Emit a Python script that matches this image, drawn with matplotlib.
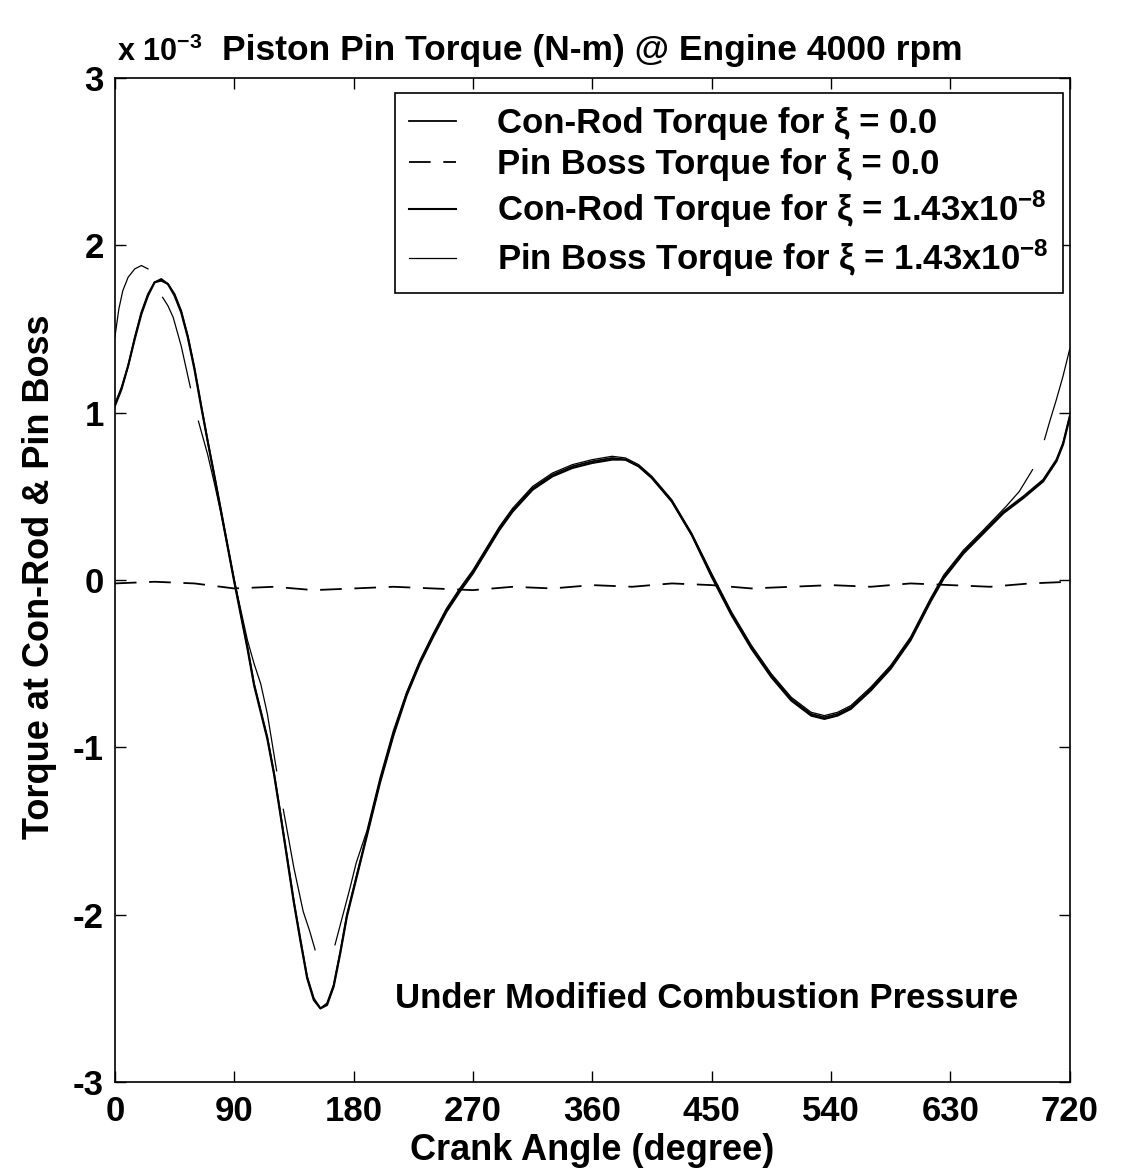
import numpy as np
import matplotlib.pyplot as plt

# === Data (torque in units of 1e-3 N-m) ===
conrod_deg = [0, 5, 10, 15, 20, 25, 30, 35, 40, 45, 50, 55, 60, 65, 70, 75, 80, 85, 90,
              95, 100, 105, 110, 115, 120, 125, 130, 135, 140, 145, 150, 155, 160, 165,
              170, 175, 180, 190, 200, 210, 220, 230, 240, 250, 260, 270, 280, 290, 300,
              315, 330, 345, 360, 375, 385, 395, 405, 420, 435, 450, 465, 480, 495, 510,
              525, 535, 545, 555, 570, 585, 600, 615, 625, 640, 655, 670, 685, 700, 710,
              715, 720]
conrod_xi0 = [1.05, 1.15, 1.28, 1.45, 1.60, 1.71, 1.78, 1.80, 1.77, 1.71, 1.61, 1.46, 1.27,
              1.05, 0.83, 0.63, 0.42, 0.21, 0.00, -0.20, -0.40, -0.62, -0.78, -0.94, -1.15,
              -1.40, -1.66, -1.92, -2.15, -2.37, -2.50, -2.56, -2.53, -2.42, -2.22, -2.00,
              -1.84, -1.52, -1.20, -0.92, -0.68, -0.49, -0.33, -0.18, -0.06, 0.05, 0.18,
              0.31, 0.42, 0.55, 0.63, 0.68, 0.71, 0.73, 0.72, 0.68, 0.61, 0.47, 0.27, 0.03,
              -0.20, -0.40, -0.57, -0.71, -0.80, -0.82, -0.80, -0.76, -0.65, -0.52, -0.35,
              -0.12, 0.02, 0.17, 0.29, 0.41, 0.50, 0.60, 0.72, 0.82, 0.98]
conrod_xi143 = [1.04, 1.14, 1.28, 1.44, 1.59, 1.70, 1.78, 1.79, 1.77, 1.70, 1.60, 1.45, 1.26,
                1.04, 0.83, 0.62, 0.41, 0.20, -0.01, -0.21, -0.41, -0.63, -0.79, -0.95, -1.16,
                -1.41, -1.67, -1.93, -2.16, -2.38, -2.51, -2.56, -2.54, -2.43, -2.23, -2.01,
                -1.85, -1.53, -1.21, -0.93, -0.69, -0.50, -0.34, -0.19, -0.07, 0.04, 0.17,
                0.30, 0.41, 0.54, 0.62, 0.67, 0.70, 0.72, 0.72, 0.68, 0.61, 0.47, 0.27, 0.02,
                -0.21, -0.41, -0.58, -0.72, -0.81, -0.83, -0.81, -0.77, -0.66, -0.53, -0.36,
                -0.13, 0.01, 0.16, 0.28, 0.40, 0.49, 0.59, 0.71, 0.81, 0.97]

pinboss_xi0_deg = [0, 30, 60, 90, 120, 150, 180, 210, 240, 270, 300, 330, 360, 390, 420,
                   450, 480, 510, 540, 570, 600, 630, 660, 690, 720]
pinboss_xi0 = [-0.02, -0.01, -0.02, -0.05, -0.04, -0.06, -0.05, -0.04, -0.05, -0.06, -0.04,
               -0.05, -0.03, -0.04, -0.02, -0.03, -0.05, -0.04, -0.03, -0.04, -0.02, -0.03,
               -0.04, -0.02, -0.01]

# None marks the breaks visible in the scanned trace
pinboss_xi143_deg = [0, 3, 6, 10, 15, 20, 25, None, 36, 40, 44, 50, 57, None, 63, 70, 75, 80,
                     85, 90, 95, 100, 105, 110, 115, 122, None, 127, 135, 142, 147, 151, None,
                     166, 172, 177, 182, 190, 200, 210, 220, 230, 240, 250, 260, 270, 280, 290,
                     300, 315, 330, 345, 360, 375, 385, 395, 405, 420, 435, 450, 465, 480, 495,
                     510, 525, 535, 545, 555, 570, 585, 600, 615, 625, 640, 655, 672, 682, 692,
                     None, 701, 705, 710, 715, 720]
pinboss_xi143 = [1.45, 1.62, 1.73, 1.81, 1.86, 1.88, 1.86, None, 1.69, 1.64, 1.57, 1.40, 1.15,
                 None, 0.95, 0.75, 0.58, 0.40, 0.20, 0.00, -0.18, -0.36, -0.50, -0.62, -0.80,
                 -1.14, None, -1.37, -1.72, -1.98, -2.10, -2.21, None, -2.18, -2.00, -1.85,
                 -1.69, -1.50, -1.18, -0.90, -0.67, -0.48, -0.32, -0.17, -0.05, 0.06, 0.19,
                 0.32, 0.43, 0.56, 0.64, 0.69, 0.72, 0.74, 0.73, 0.69, 0.62, 0.48, 0.28, 0.04,
                 -0.19, -0.39, -0.56, -0.70, -0.79, -0.81, -0.79, -0.75, -0.64, -0.51, -0.34,
                 -0.11, 0.03, 0.18, 0.30, 0.44, 0.53, 0.66, None, 0.84, 0.95, 1.08, 1.22, 1.38]

labels = ["Con-Rod Torque for \u03be = 0.0",
          "Pin Boss Torque for \u03be = 0.0",
          "Con-Rod Torque for \u03be = 1.43x10$^{-8}$",
          "Pin Boss Torque for \u03be = 1.43x10$^{-8}$"]
x_ticks = [0, 90, 180, 270, 360, 450, 540, 630, 720]
y_ticks = [-3, -2, -1, 0, 1, 2, 3]


def arr(v):
    return np.array([np.nan if a is None else a for a in v], dtype=float)


plt.rcParams['font.family'] = ['Liberation Sans', 'DejaVu Sans']
plt.rcParams['font.weight'] = 'bold'
plt.rcParams['axes.unicode_minus'] = False
plt.rcParams['mathtext.fontset'] = 'custom'
plt.rcParams['mathtext.rm'] = 'Liberation Sans:bold'
plt.rcParams['mathtext.bf'] = 'Liberation Sans:bold'
plt.rcParams['mathtext.default'] = 'bf'

FS = 25

fig = plt.figure(figsize=(11.26, 11.70), dpi=100)
ax = fig.add_axes([0.102, 0.0752, 0.848, 0.858])

ax.plot(conrod_deg, conrod_xi0, color='black', lw=1.3, label=labels[0])
ax.plot(pinboss_xi0_deg, pinboss_xi0, color='black', lw=1.3, dashes=(12, 7), label=labels[1])
ax.plot(conrod_deg, conrod_xi143, color='black', lw=1.5, label=labels[2])
ax.plot(arr(pinboss_xi143_deg), arr(pinboss_xi143), color='black', lw=0.9, label=labels[3])

ax.set_xlim(0, 720)
ax.set_ylim(-3, 3)
ax.set_xticks(x_ticks)
ax.set_yticks(y_ticks)
ax.tick_params(direction='in', length=8, width=1, top=True, right=True, labelsize=FS)
ax.tick_params(axis='x', pad=9)
ax.tick_params(axis='y', pad=8)
for s in ax.spines.values():
    s.set_linewidth(1.2)

ax.set_xlabel("Crank Angle (degree)", fontsize=26, fontweight='bold', labelpad=4)
ax.set_ylabel("Torque at Con-Rod & Pin Boss", fontsize=26, fontweight='bold')
ax.yaxis.set_label_coords(-0.061, 0.503)
ax.set_title("Piston Pin Torque (N-m) @ Engine 4000 rpm", fontsize=25.5, fontweight='bold', pad=13)
fig.text(0.104, 0.948, "x 10$^{-3}$", fontsize=22, fontweight='bold', ha='left', va='baseline')

ax.text(446, -2.5, "Under Modified Combustion Pressure", fontsize=FS, fontweight='bold',
        ha='center', va='center')

leg = ax.legend(loc='upper right', bbox_to_anchor=(0.993, 0.985), borderaxespad=0,
                fontsize=FS, handlelength=1.35, handletextpad=1.2, borderpad=0.4,
                labelspacing=0.22, fancybox=False, edgecolor='black', framealpha=1)
leg.get_frame().set_linewidth(1.2)

fig.savefig("out.png", dpi=100)
